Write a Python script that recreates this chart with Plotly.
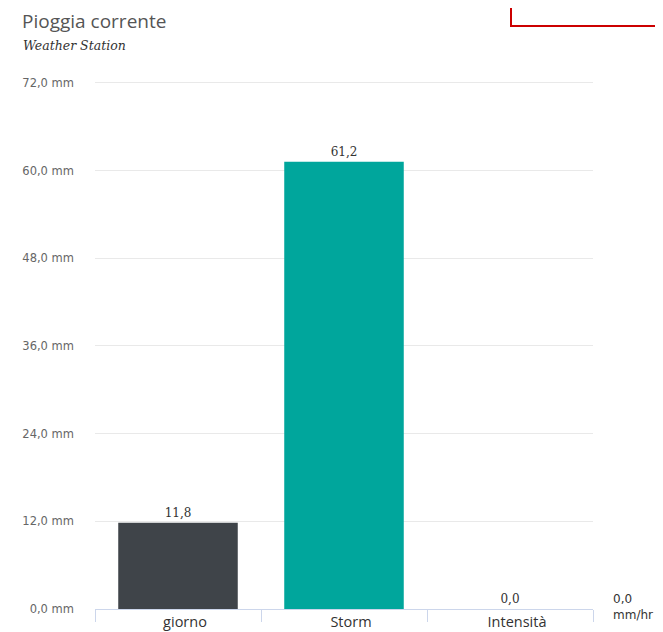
import plotly.graph_objects as go

categories = ["giorno", "Storm", "Intensità"]
values = [11.8, 61.2, 0.0]
bar_colors = ["#3f4449", "#00a69c", "#7cb5ec"]
y_ticks = [0, 12, 24, 36, 48, 60, 72]
y_tick_labels = ["0,0 mm", "12,0 mm", "24,0 mm", "36,0 mm", "48,0 mm", "60,0 mm", "72,0 mm"]
rate_label = "0,0<br>mm/hr"

# page body has an 8px margin, so draw in a slightly smaller figure
OFF = 8
Y_MAX = 72.4  # a little headroom so the 72 gridline is drawn
W, H = 663 - OFF, 632 - OFF
ppu = 526 / 72
ph = ppu * Y_MAX
pw = 498
L = 95 - OFF
B = 23
T = H - B - ph
R = W - L - pw

def px_x(x):
    return (x - OFF - L) / pw

def px_y(y):
    return (H - B - (y - OFF)) / ph

fig = go.Figure(go.Bar(
    x=categories,
    y=values,
    marker=dict(color=bar_colors, line=dict(width=0)),
    width=0.72,
    texttemplate="%{y:.1f}",
    textposition="outside",
    textfont=dict(family="DejaVu Serif", size=12, color="#333"),
    cliponaxis=False,
))

fig.update_layout(
    width=W, height=H,
    margin=dict(l=L, r=R, t=T, b=B, autoexpand=False),
    plot_bgcolor="white",
    paper_bgcolor="white",
    separators=",.",
    showlegend=False,
    font=dict(family="Open Sans", size=12, color="#333"),
    title=dict(
        text="Pioggia corrente",
        xref="container", yref="container",
        x=(22 - OFF) / W, xanchor="left",
        y=1 - (21 - OFF) / H, yanchor="middle",
        font=dict(family="Open Sans", size=19, color="#555"),
    ),
    xaxis=dict(
        automargin=False,
        showline=True, linecolor="#ccd6eb", linewidth=1,
        ticks="outside", tickson="boundaries", ticklen=12, tickcolor="#ccd6eb",
        tickfont=dict(family="Open Sans", size=14.5, color="#333"),
        ticklabelshift=7,
        showgrid=False,
    ),
    yaxis=dict(
        automargin=False,
        range=[0, Y_MAX],
        tickvals=y_ticks,
        ticktext=y_tick_labels,
        showgrid=True, gridcolor="#e9e9e9", gridwidth=1,
        zeroline=False,
        tickfont=dict(family="DejaVu Sans", size=11.5, color="#666"),
        ticklabelstandoff=20,
    ),
    annotations=[
        dict(text="<i>Weather Station</i>", xref="paper", yref="paper",
             x=px_x(21), y=px_y(46), xanchor="left", yanchor="middle",
             showarrow=False,
             font=dict(family="DejaVu Serif", size=12.5, color="#333")),
        dict(text=rate_label, xref="paper", yref="paper",
             x=px_x(611), y=px_y(607), xanchor="left", yanchor="middle",
             showarrow=False, align="left",
             font=dict(family="DejaVu Sans", size=12, color="#333")),
    ],
    shapes=[
        dict(type="rect", xref="paper", yref="paper",
             x0=px_x(511), x1=px_x(680), y0=px_y(26), y1=px_y(-10),
             line=dict(color="#cc0000", width=2)),
    ],
)

fig.write_html("out.html")
